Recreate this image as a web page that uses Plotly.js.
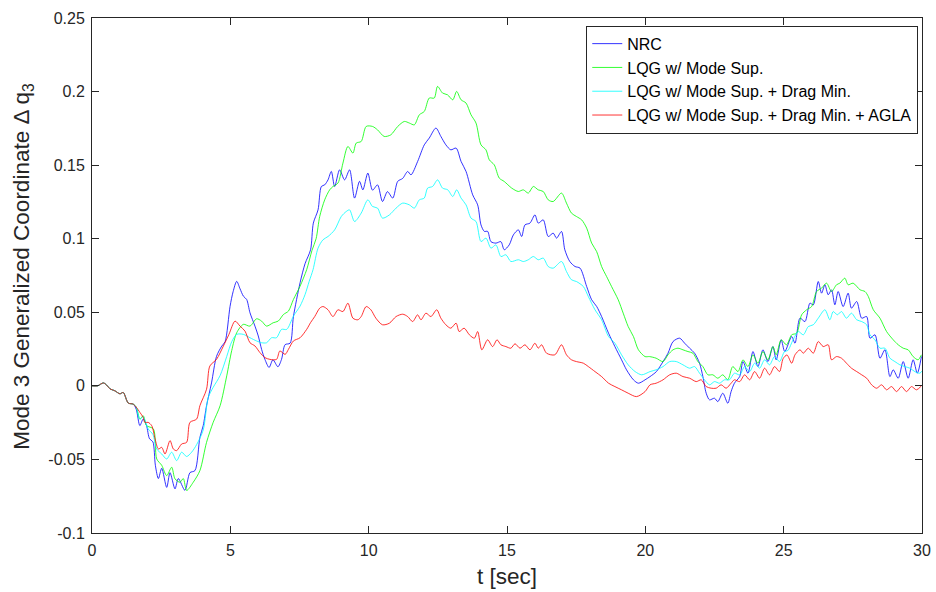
<!DOCTYPE html>
<html>
<head>
<meta charset="utf-8">
<script src="https://cdn.plot.ly/plotly-3.0.1.min.js"></script>
<style>html,body{margin:0;padding:0;background:#fff;}#chart{width:936px;height:592px;}</style>
</head>
<body>
<div id="chart"></div>
<script>
// Series names (legend order)
const seriesNames = ["NRC", "LQG w/ Mode Sup.", "LQG w/ Mode Sup. + Drag Min.", "LQG w/ Mode Sup. + Drag Min. + AGLA"];

// [t (sec), Δq3]
const nrc = [[0,0],[0.2,0],[0.41,0.002],[0.53,0.0005],[0.65,-0.002],[0.83,-0.0034],[1.01,-0.0054],[1.13,-0.0045],[1.31,-0.0117],[1.49,-0.0124],[1.6,-0.016],
[1.73,-0.027],[1.85,-0.0226],[1.97,-0.027],[2.08,-0.036],[2.2,-0.038],[2.29,-0.054],[2.4,-0.063],[2.52,-0.056],[2.7,-0.069],[2.82,-0.059],[3.0,-0.070],[3.12,-0.063],[3.36,-0.071],[3.54,-0.059],[3.72,-0.0576],[3.9,-0.035],[4.02,-0.027],[4.14,-0.0135],[4.32,0.002],[4.5,0.020],[4.69,0.027],[4.81,0.030],[4.99,0.054],[5.1,0.064],[5.23,0.071],[5.35,0.066],[5.47,0.061],[5.59,0.0587],[5.71,0.0497],[5.89,0.0406],[6.01,0.0339],[6.13,0.0248],[6.25,0.018],[6.4,0.0125],[6.54,0.0177],[6.72,0.013],[6.85,0.018],[6.98,0.028],[7.16,0.029],[7.28,0.047],[7.52,0.070],[7.7,0.083],[7.9,0.0925],[8.0,0.1106],[8.17,0.1196],[8.29,0.1355],[8.41,0.1366],[8.53,0.140],[8.65,0.1457],[8.77,0.1355],[8.95,0.1468],[9.13,0.140],[9.31,0.1468],[9.49,0.1276],[9.67,0.139],[9.79,0.1332],[9.97,0.1446],[10.14,0.133],[10.32,0.1366],[10.5,0.1253],[10.68,0.132],[10.87,0.1276],[11.05,0.139],[11.23,0.141],[11.41,0.1457],[11.53,0.1434],[11.77,0.1525],[12.01,0.1638],[12.19,0.1684],[12.43,0.1752],[12.61,0.1695],[12.79,0.1638],[12.97,0.1604],[13.16,0.1616],[13.34,0.1525],[13.52,0.1457],[13.76,0.1298],[13.94,0.123],[14.06,0.1094],[14.18,0.105],[14.3,0.105],[14.42,0.098],[14.6,0.097],[14.78,0.098],[14.9,0.0925],[15.08,0.0958],[15.23,0.1026],[15.41,0.106],[15.53,0.1015],[15.65,0.1094],[15.83,0.1106],[16.01,0.1162],[16.13,0.1106],[16.31,0.1128],[16.49,0.1015],[16.67,0.1038],[16.79,0.1004],[16.97,0.1049],[17.09,0.0925],[17.27,0.0845],[17.46,0.0811],[17.64,0.080],[17.88,0.0675],[18.06,0.0585],[18.24,0.054],[18.42,0.0471],[18.67,0.0358],[18.9,0.0267],[19.14,0.0177],[19.32,0.0109],[19.57,0.0041],[19.75,0.0018],[19.99,0.0041],[20.17,0.0063],[20.4,0.0097],[20.64,0.0165],[20.82,0.0222],[21.0,0.0301],[21.24,0.0324],[21.42,0.029],[21.6,0.0256],[21.78,0.0222],[21.96,0.0154],[22.08,0.0063],[22.2,-0.005],[22.32,-0.0095],[22.5,-0.0084],[22.62,-0.0107],[22.8,-0.005],[22.98,-0.0118],[23.1,-0.0039],[23.22,0.0018],[23.41,0.0063],[23.53,0.0165],[23.71,0.0086],[23.89,0.0233],[24.07,0.0131],[24.25,0.0245],[24.43,0.0165],[24.61,0.0267],[24.73,0.0177],[24.91,0.0313],[25.04,0.0233],[25.29,0.0335],[25.41,0.029],[25.59,0.046],[25.77,0.0437],[25.95,0.0562],[26.07,0.055],[26.25,0.0709],[26.37,0.063],[26.49,0.0687],[26.61,0.0619],[26.73,0.0653],[26.85,0.0551],[26.97,0.0641],[27.15,0.0539],[27.33,0.063],[27.45,0.0528],[27.64,0.0573],[27.82,0.046],[28.0,0.0471],[28.12,0.0324],[28.3,0.0347],[28.48,0.0188],[28.66,0.0245],[28.84,0.0063],[28.96,0.0109],[29.14,0.0052],[29.32,0.0165],[29.5,0.0052],[29.68,0.0177],[29.83,0.0086],[29.98,0.020]];

const lqg = [[0,0],[0.2,0],[0.41,0.002],[0.53,0.0005],[0.65,-0.002],[0.83,-0.0034],[1.01,-0.0054],[1.13,-0.0045],[1.31,-0.0117],[1.49,-0.0124],[1.6,-0.0145],
[1.73,-0.0226],[1.85,-0.0203],[1.97,-0.027],[2.22,-0.0293],[2.34,-0.0497],[2.52,-0.054],[2.7,-0.061],[2.88,-0.0553],[3.0,-0.0632],[3.18,-0.0655],[3.3,-0.063],[3.42,-0.0711],[3.66,-0.0655],[3.9,-0.0576],[4.14,-0.0384],[4.38,-0.0248],[4.63,-0.0135],[4.87,0.0068],[5.05,0.024],[5.23,0.0361],[5.47,0.0418],[5.71,0.0406],[5.95,0.0456],[6.13,0.044],[6.31,0.0406],[6.55,0.0429],[6.73,0.044],[6.92,0.0485],[7.1,0.0508],[7.28,0.0587],[7.52,0.0677],[7.76,0.079],[7.95,0.092],[8.1,0.1],[8.23,0.1151],[8.41,0.1264],[8.59,0.1332],[8.71,0.1355],[8.89,0.1378],[9.07,0.1514],[9.25,0.1627],[9.43,0.1582],[9.55,0.165],[9.73,0.1661],[9.91,0.1763],[10.14,0.1763],[10.32,0.174],[10.56,0.1695],[10.8,0.1706],[11.05,0.1763],[11.29,0.1797],[11.47,0.1786],[11.65,0.1774],[11.83,0.1842],[12.01,0.1865],[12.19,0.1956],[12.37,0.1956],[12.49,0.2035],[12.67,0.199],[12.85,0.1978],[13.04,0.1944],[13.18,0.2001],[13.34,0.1944],[13.52,0.1922],[13.7,0.1842],[13.88,0.1786],[14.06,0.1638],[14.24,0.1604],[14.36,0.1536],[14.54,0.1502],[14.72,0.1412],[14.9,0.1389],[15.17,0.1344],[15.41,0.1321],[15.59,0.1332],[15.77,0.131],[15.95,0.1355],[16.13,0.1332],[16.31,0.1321],[16.49,0.1264],[16.67,0.1253],[16.97,0.131],[17.15,0.1242],[17.33,0.1174],[17.51,0.1151],[17.7,0.1128],[17.88,0.1072],[18.06,0.097],[18.24,0.0913],[18.42,0.0811],[18.6,0.0743],[18.78,0.0675],[19.02,0.0585],[19.2,0.0494],[19.38,0.0403],[19.57,0.0335],[19.75,0.0245],[19.99,0.0199],[20.15,0.0199],[20.39,0.0188],[20.64,0.0165],[20.82,0.0211],[21.0,0.0245],[21.18,0.0256],[21.36,0.0245],[21.54,0.0233],[21.72,0.0222],[21.9,0.0165],[22.08,0.0131],[22.26,0.0075],[22.44,0.0075],[22.62,0.0052],[22.8,0.0075],[22.98,0.0041],[23.16,0.0131],[23.35,0.0097],[23.53,0.0177],[23.71,0.0131],[23.89,0.0211],[24.07,0.0154],[24.25,0.0233],[24.43,0.0177],[24.61,0.0267],[24.73,0.0211],[24.91,0.0313],[25.1,0.0279],[25.29,0.0347],[25.47,0.0358],[25.65,0.0483],[25.83,0.0517],[26.01,0.0539],[26.19,0.0641],[26.37,0.0664],[26.55,0.0698],[26.73,0.0641],[26.91,0.0687],[27.03,0.0698],[27.21,0.0732],[27.33,0.0687],[27.51,0.0698],[27.76,0.0653],[27.94,0.0641],[28.06,0.0607],[28.24,0.0517],[28.48,0.046],[28.72,0.0369],[28.96,0.0313],[29.14,0.0279],[29.32,0.0256],[29.5,0.0245],[29.68,0.0199],[29.86,0.0177],[29.98,0.0211]];

const lqgDrag = [[0,0],[0.2,0],[0.41,0.002],[0.53,0.0005],[0.65,-0.002],[0.83,-0.0034],[1.01,-0.0054],[1.13,-0.0045],[1.31,-0.0117],[1.49,-0.0124],[1.6,-0.0145],
[1.73,-0.0226],[1.85,-0.021],[2.03,-0.0293],[2.2,-0.033],[2.34,-0.0429],[2.52,-0.0463],[2.7,-0.0497],[2.88,-0.0451],[3.06,-0.0508],[3.24,-0.0451],[3.42,-0.048],[3.6,-0.0451],[3.78,-0.040],[4.02,-0.030],[4.2,-0.008],[4.38,-0.001],[4.63,0.007],[4.87,0.02],[5.05,0.03],[5.23,0.035],[5.47,0.035],[5.71,0.0327],[5.95,0.0305],[6.13,0.0293],[6.31,0.0293],[6.49,0.0327],[6.67,0.0327],[6.85,0.0384],[7.04,0.0384],[7.28,0.0474],[7.52,0.0542],[7.7,0.062],[7.85,0.071],[7.99,0.079],[8.17,0.0936],[8.35,0.0993],[8.53,0.1015],[8.77,0.106],[9.01,0.1151],[9.19,0.1185],[9.31,0.1196],[9.49,0.1117],[9.73,0.1174],[9.97,0.1264],[10.14,0.1219],[10.32,0.1208],[10.5,0.114],[10.75,0.1162],[10.99,0.1208],[11.23,0.1242],[11.47,0.123],[11.65,0.1208],[11.83,0.1264],[12.01,0.1276],[12.13,0.1344],[12.31,0.1355],[12.49,0.14],[12.67,0.1344],[12.86,0.1332],[13.04,0.1287],[13.18,0.1332],[13.34,0.1276],[13.52,0.123],[13.7,0.114],[13.88,0.1117],[14.06,0.0981],[14.24,0.1004],[14.42,0.0936],[14.6,0.0958],[14.78,0.0879],[14.96,0.0891],[15.14,0.0845],[15.41,0.0857],[15.59,0.0845],[15.77,0.0857],[15.95,0.0879],[16.13,0.0857],[16.31,0.0868],[16.49,0.0811],[16.67,0.080],[16.97,0.0845],[17.15,0.0777],[17.33,0.0721],[17.51,0.0709],[17.76,0.0675],[17.94,0.0607],[18.18,0.0517],[18.42,0.0449],[18.67,0.0335],[18.9,0.029],[19.14,0.0211],[19.38,0.0143],[19.63,0.0097],[19.87,0.0075],[20.17,0.0097],[20.39,0.0109],[20.64,0.0131],[20.88,0.0165],[21.12,0.0165],[21.36,0.0143],[21.6,0.012],[21.78,0.0131],[21.96,0.0086],[22.14,0.0041],[22.32,0.0007],[22.5,0.0029],[22.68,0.0018],[22.86,0.0041],[23.04,0.0041],[23.22,0.0086],[23.41,0.0075],[23.59,0.0131],[23.77,0.0097],[23.95,0.0154],[24.13,0.012],[24.31,0.0177],[24.49,0.0143],[24.67,0.0199],[24.85,0.0165],[25.03,0.0233],[25.15,0.024],[25.34,0.0313],[25.53,0.0369],[25.71,0.0347],[25.89,0.0403],[26.07,0.0415],[26.25,0.046],[26.49,0.0517],[26.67,0.0449],[26.79,0.0505],[26.94,0.0483],[27.09,0.0505],[27.27,0.046],[27.45,0.0494],[27.64,0.0449],[27.82,0.0437],[28.0,0.0415],[28.12,0.0347],[28.3,0.0313],[28.48,0.0256],[28.66,0.0256],[28.84,0.0188],[29.02,0.0165],[29.2,0.0143],[29.38,0.0131],[29.56,0.012],[29.74,0.0097],[29.92,0.0086],[30.04,0.0109]];

const lqgAgla = [[0,0],[0.2,0],[0.41,0.002],[0.53,0.0005],[0.65,-0.002],[0.83,-0.0034],[1.01,-0.0054],[1.13,-0.0045],[1.31,-0.0117],[1.49,-0.0124],[1.6,-0.0145],
[1.73,-0.018],[1.85,-0.0214],[1.91,-0.0248],[2.03,-0.0248],[2.16,-0.0271],[2.28,-0.0361],[2.4,-0.0429],[2.52,-0.0418],[2.64,-0.0463],[2.82,-0.0372],[2.94,-0.0429],[3.06,-0.044],[3.24,-0.0395],[3.42,-0.0384],[3.54,-0.0248],[3.78,-0.0226],[3.9,-0.0135],[4.14,-0.0023],[4.26,0.0135],[4.5,0.018],[4.75,0.0271],[4.95,0.035],[5.17,0.044],[5.35,0.0406],[5.53,0.0372],[5.71,0.0293],[5.89,0.0271],[6.07,0.0226],[6.25,0.0192],[6.43,0.018],[6.67,0.018],[6.79,0.0237],[6.98,0.0214],[7.1,0.0248],[7.28,0.0305],[7.52,0.0327],[7.76,0.0384],[7.9,0.043],[8.05,0.0471],[8.23,0.0528],[8.35,0.0539],[8.53,0.0517],[8.71,0.0471],[8.89,0.0517],[9.07,0.0505],[9.25,0.0562],[9.43,0.046],[9.61,0.0449],[9.73,0.0471],[9.91,0.0539],[10.08,0.0517],[10.26,0.046],[10.5,0.0415],[10.75,0.0426],[10.99,0.0471],[11.23,0.0487],[11.41,0.0471],[11.59,0.0437],[11.77,0.0483],[11.89,0.0449],[12.07,0.0494],[12.25,0.0471],[12.46,0.0517],[12.61,0.046],[12.79,0.0415],[12.97,0.0392],[13.16,0.0426],[13.27,0.0369],[13.45,0.0392],[13.64,0.0347],[13.82,0.0324],[13.94,0.0369],[14.09,0.0245],[14.3,0.0313],[14.48,0.0267],[14.64,0.0313],[14.78,0.0279],[14.96,0.0267],[15.14,0.0256],[15.29,0.0286],[15.47,0.0256],[15.65,0.0279],[15.83,0.0245],[16.01,0.029],[16.13,0.0256],[16.25,0.0279],[16.43,0.0222],[16.73,0.0211],[16.97,0.0279],[17.15,0.0211],[17.33,0.0177],[17.51,0.0165],[17.76,0.0154],[17.94,0.0131],[18.18,0.0097],[18.42,0.0063],[18.67,0.0018],[18.9,-0.0005],[19.14,-0.0027],[19.38,-0.005],[19.68,-0.0073],[19.99,-0.0039],[20.17,0.0007],[20.39,0.0018],[20.64,0.0041],[20.88,0.0075],[21.12,0.0086],[21.36,0.0063],[21.6,0.0052],[21.84,0.0029],[22.02,0.0041],[22.2,-0.0005],[22.38,-0.0016],[22.56,-0.0016],[22.74,0.0007],[22.92,-0.0016],[23.1,0.0018],[23.22,0.0041],[23.41,0.0029],[23.59,0.0075],[23.77,0.0041],[23.95,0.0097],[24.13,0.0052],[24.31,0.012],[24.49,0.0075],[24.67,0.0131],[24.85,0.0097],[24.98,0.0185],[25.12,0.021],[25.29,0.0154],[25.41,0.0211],[25.59,0.0245],[25.71,0.0222],[25.89,0.0256],[26.07,0.0222],[26.25,0.0301],[26.43,0.0267],[26.61,0.0279],[26.73,0.0177],[26.91,0.0199],[27.09,0.0188],[27.27,0.0154],[27.45,0.012],[27.64,0.0097],[27.82,0.0075],[28.0,0.0052],[28.18,0.0007],[28.36,-0.0016],[28.54,0.0007],[28.72,-0.0027],[28.9,-0.0005],[29.08,-0.0039],[29.26,-0.0005],[29.44,-0.0039],[29.62,-0.0005],[29.8,-0.0027],[29.98,0.0]];

// Axis ticks and titles
const xTickVals = [0, 5, 10, 15, 20, 25, 30];
const yTickVals = [-0.1, -0.05, 0, 0.05, 0.1, 0.15, 0.2, 0.25];
const yTickText = ["-0.1", "-0.05", "0", "0.05", "0.1", "0.15", "0.2", "0.25"];
const xTitle = "t [sec]";
const yTitle = "Mode 3 Generalized Coordinate \u0394 q<sub>3</sub>";

const colors = ["#0000ff", "#00ff00", "#00ffff", "#ff0000"];
const allSeries = [nrc, lqg, lqgDrag, lqgAgla];

const FONT = "Liberation Sans, Arial, Helvetica, sans-serif";
const AX = "#262626";

const traces = allSeries.map((s, i) => ({
  type: "scatter",
  mode: "lines",
  name: seriesNames[i],
  x: s.map(p => p[0]),
  y: s.map(p => p[1]),
  opacity: 0.8,
  line: {color: colors[i], width: 1, shape: "spline", smoothing: 0.8}
}));

const layout = {
  width: 936, height: 592,
  margin: {l: 92, r: 14, t: 18, b: 59, pad: 0},
  paper_bgcolor: "#fff", plot_bgcolor: "#fff",
  font: {family: FONT, color: AX, size: 16},
  showlegend: true,
  xaxis: {
    range: [0, 30], tickvals: xTickVals, ticks: "inside", ticklen: 7, tickcolor: AX,
    showline: true, linecolor: AX, linewidth: 1, mirror: "ticks",
    showgrid: false, zeroline: false, ticklabelstandoff: 3,
    tickfont: {family: FONT, size: 16, color: AX},
    title: {text: xTitle, font: {family: FONT, size: 22.5, color: AX}, standoff: 10}
  },
  yaxis: {
    range: [-0.1, 0.25], tickvals: yTickVals, ticktext: yTickText, ticks: "inside", ticklen: 7, tickcolor: AX,
    showline: true, linecolor: AX, linewidth: 1, mirror: "ticks",
    showgrid: false, zeroline: false, ticklabelstandoff: 3,
    tickfont: {family: FONT, size: 16, color: AX}
  },
  annotations: [{
    text: yTitle, xref: "paper", yref: "paper",
    x: -0.0831, y: 0.517, xanchor: "center", yanchor: "middle",
    textangle: -90, showarrow: false,
    font: {family: FONT, size: 22.5, color: AX}
  }],
  legend: {
    x: 0.9955, y: 0.985, xanchor: "right", yanchor: "top",
    bgcolor: "#fff", bordercolor: AX, borderwidth: 1,
    font: {family: FONT, size: 16, color: "#000"},
    tracegroupgap: 0, itemwidth: 30
  }
};

Plotly.newPlot("chart", traces, layout, {staticPlot: true, displayModeBar: false});
</script>
</body>
</html>
